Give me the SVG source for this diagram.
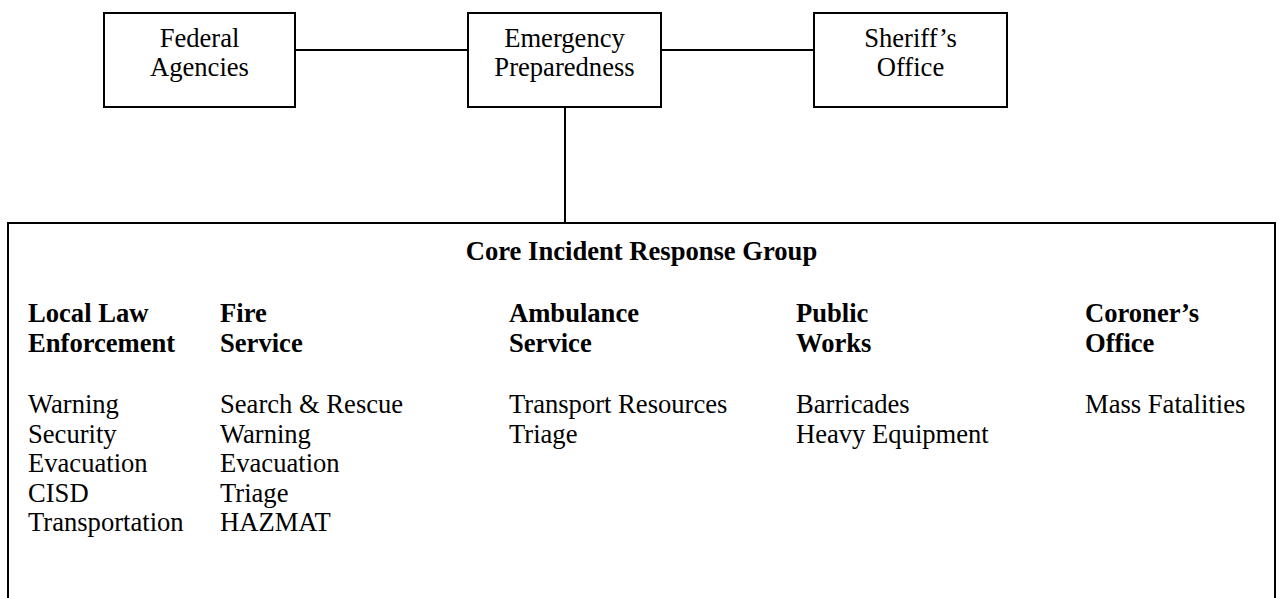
<svg xmlns="http://www.w3.org/2000/svg" width="1282" height="598" viewBox="0 0 1282 598">
  <style>
    .box { fill: #ffffff; stroke: #000000; stroke-width: 2; }
    .conn { stroke: #000000; stroke-width: 2; fill: none; }
    .t { font-family: "Liberation Serif", "Times New Roman", serif; font-size: 26.6px; fill: #000000; }
    .c { text-anchor: middle; }
    .b { font-weight: bold; }
  </style>
  <rect width="1282" height="598" fill="#ffffff"/>

  <!-- connectors -->
  <g id="connectors">
    <line class="conn" x1="295" y1="50" x2="468" y2="50"/>
    <line class="conn" x1="661" y1="50" x2="814" y2="50"/>
    <line class="conn" x1="565" y1="107" x2="565" y2="223"/>
  </g>

  <g id="federal-agencies">
    <rect class="box" x="104" y="13" width="191" height="94"/>
    <text class="t c" x="199.5" y="47">Federal</text>
    <text class="t c" x="199.5" y="76">Agencies</text>
  </g>

  <g id="emergency-preparedness">
    <rect class="box" x="468" y="13" width="193" height="94"/>
    <text class="t c" x="564.5" y="47">Emergency</text>
    <text class="t c" x="564.5" y="76">Preparedness</text>
  </g>

  <g id="sheriffs-office">
    <rect class="box" x="814" y="13" width="193" height="94"/>
    <text class="t c" x="910.5" y="47">Sheriff’s</text>
    <text class="t c" x="910.5" y="76">Office</text>
  </g>

  <g id="core-incident-response-group">
    <rect class="box" x="8" y="223" width="1267" height="400"/>
    <text class="t c b" x="641.5" y="260">Core Incident Response Group</text>

    <!-- Local Law Enforcement -->
    <text class="t b" x="28" y="322">Local Law</text>
    <text class="t b" x="28" y="352">Enforcement</text>
    <text class="t" x="28" y="413">Warning</text>
    <text class="t" x="28" y="442.5">Security</text>
    <text class="t" x="28" y="472">Evacuation</text>
    <text class="t" x="28" y="501.5">CISD</text>
    <text class="t" x="28" y="531">Transportation</text>

    <!-- Fire Service -->
    <text class="t b" x="220" y="322">Fire</text>
    <text class="t b" x="220" y="352">Service</text>
    <text class="t" x="220" y="413">Search &amp; Rescue</text>
    <text class="t" x="220" y="442.5">Warning</text>
    <text class="t" x="220" y="472">Evacuation</text>
    <text class="t" x="220" y="501.5">Triage</text>
    <text class="t" x="220" y="531">HAZMAT</text>

    <!-- Ambulance Service -->
    <text class="t b" x="509" y="322">Ambulance</text>
    <text class="t b" x="509" y="352">Service</text>
    <text class="t" x="509" y="413">Transport Resources</text>
    <text class="t" x="509" y="442.5">Triage</text>

    <!-- Public Works -->
    <text class="t b" x="796" y="322">Public</text>
    <text class="t b" x="796" y="352">Works</text>
    <text class="t" x="796" y="413">Barricades</text>
    <text class="t" x="796" y="442.5">Heavy Equipment</text>

    <!-- Coroner's Office -->
    <text class="t b" x="1085" y="322">Coroner’s</text>
    <text class="t b" x="1085" y="352">Office</text>
    <text class="t" x="1085" y="413">Mass Fatalities</text>
  </g>
</svg>
